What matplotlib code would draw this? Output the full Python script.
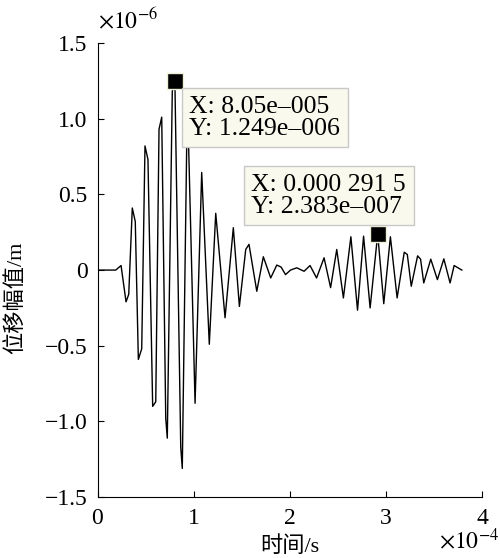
import numpy as np
import matplotlib.pyplot as plt

# time in units of 1e-4 s, displacement in units of 1e-6 m
t = [0.00, 0.19, 0.245, 0.297, 0.325, 0.362, 0.393, 0.425, 0.46, 0.494,
     0.525, 0.574, 0.606, 0.64, 0.668, 0.71, 0.726, 0.778, 0.805, 0.866,
     0.882, 0.935, 1.015, 1.084, 1.163, 1.23, 1.327, 1.413, 1.476, 1.542,
     1.576, 1.657, 1.725, 1.802, 1.865, 1.91, 1.956, 2.008, 2.073, 2.149,
     2.211, 2.279, 2.357, 2.425, 2.489, 2.558, 2.636, 2.705, 2.768, 2.836,
     2.915, 2.978, 3.047, 3.117, 3.191, 3.223, 3.264, 3.33, 3.361, 3.394,
     3.467, 3.536, 3.603, 3.668, 3.71, 3.79]
disp = [0.0, 0.0, 0.03, -0.21, -0.16, 0.41, 0.32, -0.59, -0.52, 0.82,
        0.73, -0.90, -0.87, 0.93, 1.01, -0.98, -1.11, 1.18, 1.249, -1.17,
        -1.31, 1.15, -0.88, 0.645, -0.49, 0.375, -0.315, 0.28, -0.24, 0.136,
        0.17, -0.14, 0.088, -0.052, 0.033, 0.02, -0.03, 0.0, 0.015, -0.008,
        0.03, -0.052, 0.081, -0.116, 0.136, -0.184, 0.22, -0.265, 0.224, -0.25,
        0.2383, -0.222, 0.22, -0.184, 0.118, 0.103, -0.107, 0.094, 0.072, -0.085,
        0.072, -0.063, 0.074, -0.085, 0.03, 0.0]

marks_t = [0.805, 2.915]
marks_y = [1.249, 0.2383]
mark_text = ["X: 8.05e\u2013005\nY: 1.249e\u2013006",
             "X: 0.000 291 5\nY: 2.383e\u2013007"]

xticks = [0, 1, 2, 3, 4]
yticks = [-1.5, -1.0, -0.5, 0, 0.5, 1.0, 1.5]
ytick_labels = ["\u22121.5", "\u22121.0", "\u22120.5", "0", "0.5", "1.0", "1.5"]

plt.rcParams['font.family'] = ['Liberation Serif', 'Noto Sans CJK SC']
plt.rcParams['mathtext.fontset'] = 'stix'

fig = plt.figure(figsize=(5, 5.58), dpi=100)
ax = fig.add_axes([0.195, 0.109, 0.769, 0.814])

ax.plot(t, disp, color='black', lw=1.0)
ax.plot(marks_t, marks_y, 's', ms=11, color='black', mec='#f0f0d8', mew=1, zorder=4)

ax.set_xlim(0, 4)
ax.set_ylim(-1.5, 1.5)
ax.set_xticks(xticks)
ax.set_xticklabels([str(v) for v in xticks])
ax.set_yticks(yticks)
ax.set_yticklabels(ytick_labels)
ax.tick_params(direction='in', length=4, width=0.8, labelsize=17, pad=7)
ax.tick_params(axis='x', pad=8)
for s in ['top', 'right']:
    ax.spines[s].set_visible(False)

ax.set_xlabel("时间/s", fontsize=16)
ax.xaxis.set_label_coords(0.5, -0.085)
ax.set_ylabel("位移幅值/m", fontsize=16)
ax.yaxis.set_label_coords(-0.185, 0.44)

ax.text(0.0, 1.02, r'$\times10^{-6}$', transform=ax.transAxes, fontsize=17,
        ha='left', va='bottom')
fig.text(0.878, 0.008, r'$\times10^{-4}$', fontsize=17, ha='left', va='bottom')

boxstyle = dict(boxstyle='square,pad=0.3', fc='#f9f9ee', ec='#c8c8c8', lw=1)
ax.text(0.239, 0.884, mark_text[0], transform=ax.transAxes, fontsize=18.5,
        ha='left', va='top', linespacing=1.0, bbox=boxstyle, zorder=5)
ax.text(0.4005, 0.7126, mark_text[1], transform=ax.transAxes, fontsize=18.5,
        ha='left', va='top', linespacing=1.0, bbox=boxstyle, zorder=5)

fig.savefig('out.png', dpi=100)
